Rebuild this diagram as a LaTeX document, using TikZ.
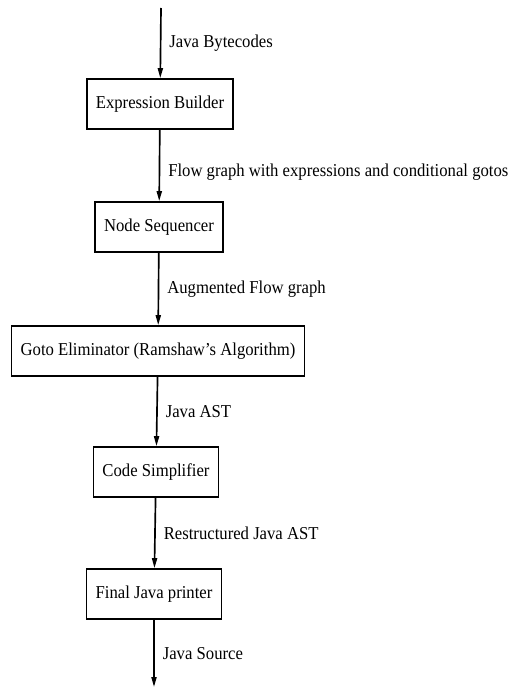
\documentclass[tikz,border=0pt]{standalone}
\usepackage{fontspec}
\setmainfont{Liberation Serif}[FakeStretch=0.92]
\usetikzlibrary{arrows.meta}

\tikzset{every picture/.style={line width=1.25pt}}
\tikzset{
  stage/.style={draw, rectangle, inner xsep=6.75pt, minimum height=37.5pt, font=\fontsize{13.6}{16}\selectfont},
  flow/.style={-{Triangle[length=7.5pt,width=3.8pt]}},
  data/.style={right, inner sep=6pt, font=\fontsize{13.6}{16}\selectfont}
}

\begin{document}
\begin{tikzpicture}[x=0.75pt,y=0.75pt,yscale=-1]
			\useasboundingbox (0,0) rectangle (531,688);
			\coordinate (in) at (161,8);
			\node [stage] (builder) at (160,104) {Expression Builder};
			\node [stage] (sequencer) at (159,227) {Node Sequencer};
			\node [stage] (eliminator) at (158,351) {Goto Eliminator (Ramshaw's Algorithm)};
			\node [stage] (simplifier) at (156,472) {Code Simplifier};
			\node [stage] (printer) at (154,594) {Final Java printer};
			\coordinate (out) at (154,687);
			\draw [flow] (in) -- node [data] {Java Bytecodes} (builder);
			\draw [flow] (builder) -- node [data, pos=0.6] {Flow graph with expressions and conditional gotos} (sequencer);
			\draw [flow] (sequencer) -- node [data] {Augmented Flow graph} (eliminator);
			\draw [flow] (eliminator) -- node [data] {Java AST} (simplifier);
			\draw [flow] (simplifier) -- node [data] {Restructured Java AST} (printer);
			\draw [flow] (printer) -- node [data] {Java Source} (out);
		\end{tikzpicture}
\end{document}
